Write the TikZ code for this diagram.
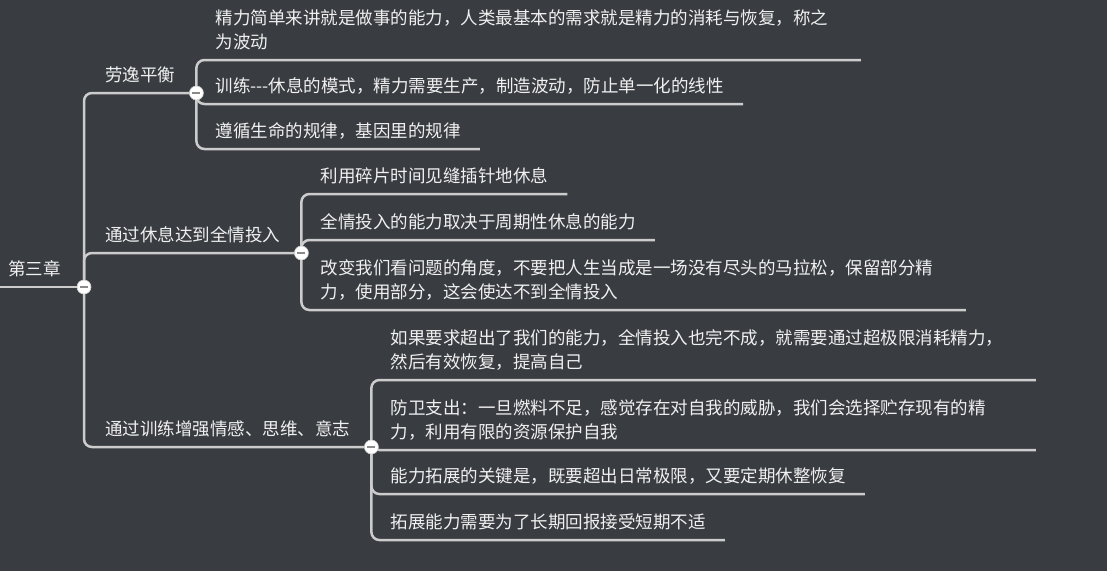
\documentclass[tikz,border=0pt]{standalone}
\usepackage{fontspec}
\newfontfamily\cjk{Noto Sans CJK SC}
\usetikzlibrary{positioning, calc}

\definecolor{bgcol}{HTML}{393C41}
\definecolor{linecol}{HTML}{CCCCCC}
\definecolor{txtcol}{HTML}{F0F0F0}
\definecolor{barcol}{HTML}{8A8A8A}

\begin{document}
\begin{tikzpicture}[
    x=1pt, y=-1pt,
    font=\cjk\fontsize{17.5}{24}\selectfont,
    % Styles
    topic/.style={anchor=south west, text=txtcol, inner xsep=8pt, inner ysep=9.5pt},
    branch/.style={anchor=south west, text=txtcol, inner xsep=21pt, inner ysep=9.5pt},
    leaf/.style={anchor=south west, text=txtcol, inner xsep=19pt, inner ysep=9.5pt, align=left},
    wide/.style={text width=626pt},
    link/.style={draw=linecol, line width=2.5pt, rounded corners=8pt},
    knob/.style={circle, fill=white, draw=linecol, line width=0.6pt, minimum size=14pt, inner sep=0pt,
        path picture={\draw[barcol, line width=2.6pt]
            ([xshift=-4pt]path picture bounding box.center) -- ([xshift=4pt]path picture bounding box.center);}}
]

    % --- Background ---
    \fill[bgcol] (0,0) rectangle (1107,571);
    \useasboundingbox (0,0) rectangle (1107,571);

    % --- Root and main branches ---
    \node[topic] (root) at (0,287) {第三章};
    \node[branch] (l1) at (84,93) {劳逸平衡};
    \node[branch] (l2) at (84,253) {通过休息达到全情投入};
    \node[branch] (l3) at (84,447) {通过训练增强情感、思维、意志};

    % --- 劳逸平衡 ---
    \node[leaf, wide] (a1) at (l1.south east |- 0,60)
        {精力简单来讲就是做事的能力，人类最基本的需求就是精力的消耗与恢复，称之\\为波动};
    \node[leaf] (a2) at (l1.south east |- 0,104) {训练-{}-{}-休息的模式，精力需要生产，制造波动，防止单一化的线性};
    \node[leaf] (a3) at (l1.south east |- 0,149) {遵循生命的规律，基因里的规律};

    % --- 通过休息达到全情投入 ---
    \node[leaf] (b1) at (l2.south east |- 0,194) {利用碎片时间见缝插针地休息};
    \node[leaf] (b2) at (l2.south east |- 0,240) {全情投入的能力取决于周期性休息的能力};
    \node[leaf, wide] (b3) at (l2.south east |- 0,310)
        {改变我们看问题的角度，不要把人生当成是一场没有尽头的马拉松，保留部分精\\力，使用部分，这会使达不到全情投入};

    % --- 通过训练增强情感、思维、意志 ---
    \node[leaf, wide] (c1) at (l3.south east |- 0,380)
        {如果要求超出了我们的能力，全情投入也完不成，就需要通过超极限消耗精力，\\然后有效恢复，提高自己};
    \node[leaf, wide] (c2) at (l3.south east |- 0,450)
        {防卫支出：一旦燃料不足，感觉存在对自我的威胁，我们会选择贮存现有的精\\力，利用有限的资源保护自我};
    \node[leaf] (c3) at (l3.south east |- 0,494) {能力拓展的关键是，既要超出日常极限，又要定期休整恢复};
    \node[leaf] (c4) at (l3.south east |- 0,540) {拓展能力需要为了长期回报接受短期不适};

    % Connectors
    \draw[link] (root.south west) -- (root.south west -| l1.south west);
    \foreach \n in {l1,l2,l3}
        \draw[link] (root.south west -| l1.south west) |- (\n.south east);
    \foreach \n in {a1,a2,a3}
        \draw[link] (l1.south east) |- (\n.south east);
    \foreach \n in {b1,b2,b3}
        \draw[link] (l2.south east) |- (\n.south east);
    \foreach \n in {c1,c2,c3,c4}
        \draw[link] (l3.south east) |- (\n.south east);

    % Collapse knobs
    \node[knob] (k0) at (root.south west -| l1.south west) {};
    \node[knob] (k1) at (l1.south east) {};
    \node[knob] (k2) at (l2.south east) {};
    \node[knob] (k3) at (l3.south east) {};

\end{tikzpicture}
\end{document}
